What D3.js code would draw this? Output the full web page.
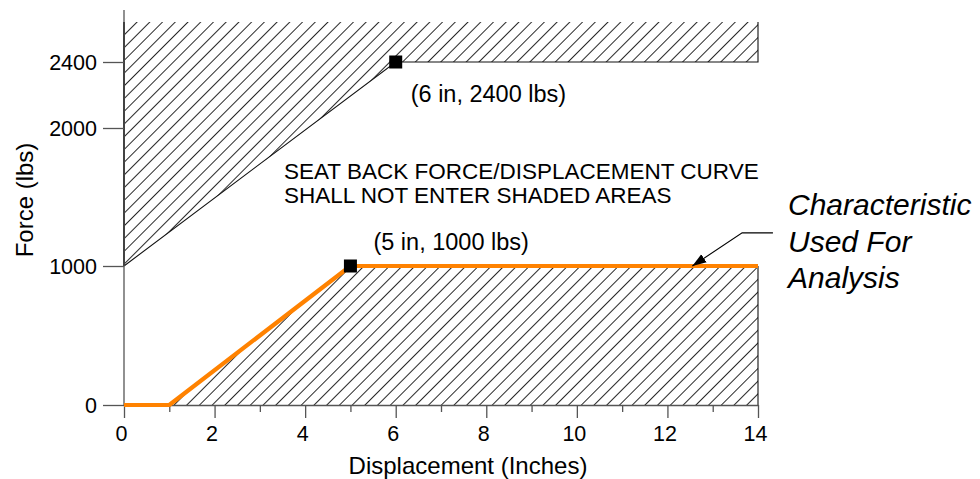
<!DOCTYPE html>
<html>
<head>
<meta charset="utf-8">
<script src="https://cdn.jsdelivr.net/npm/d3@7"></script>
<style>
  html, body { margin: 0; padding: 0; background: #fff; }
  svg { display: block; font-family: "Liberation Sans", Arial, sans-serif; }
</style>
</head>
<body>
<svg id="chart" width="980" height="479"></svg>
<script>
// ---------- data ----------
const xMajorTicks = [0, 2, 4, 6, 8, 10, 12, 14];
const xMinorTicks = [1, 3, 5, 7, 9, 11, 13];
const yTicks = [0, 1000, 2000, 2400];

// characteristic used for analysis (orange)
const charX = [0, 1, 5, 14];
const charY = [0, 0, 1000, 1000];

// lower shaded (forbidden) area
const lowerX = [1, 5, 14, 14];
const lowerY = [0, 1000, 1000, 0];

// upper shaded (forbidden) area
const upperX = [0, 6, 14, 14, 0];
const upperY = [1000, 2400, 2400, 2650, 2650];

// marked corner points
const markerX = [5, 6];
const markerY = [1000, 2400];
const markerLabels = ["(5 in, 1000 lbs)", "(6 in, 2400 lbs)"];

const noteLines = ["SEAT BACK FORCE/DISPLACEMENT CURVE", "SHALL NOT ENTER SHADED AREAS"];
const calloutLines = ["Characteristic", "Used For", "Analysis"];
// leader from the curve to the callout
const leaderX = [12.55, 13.65, 14.33];
const leaderY = [1000, 1240, 1240];

// ---------- scales ----------
const svg = d3.select("#chart");
const x = d3.scaleLinear().domain([0, 14]).range([124, 758]);
// drawing's vertical axis is not uniform above 2000 lbs
const y = d3.scaleLinear().domain([0, 1000, 2000, 2400, 2650, 2725]).range([405, 266, 128, 62, 22, 10]);

const defs = svg.append("defs");
const pat = defs.append("pattern")
  .attr("id", "hatch")
  .attr("patternUnits", "userSpaceOnUse")
  .attr("width", 9).attr("height", 9)
  .attr("patternTransform", "rotate(45)");
pat.append("line").attr("x1", 4.5).attr("y1", 0).attr("x2", 4.5).attr("y2", 9)
  .attr("stroke", "#111").attr("stroke-width", 0.9);

defs.append("marker")
  .attr("id", "arrow")
  .attr("viewBox", "0 0 10 10")
  .attr("refX", 0).attr("refY", 5)
  .attr("markerWidth", 14).attr("markerHeight", 14)
  .attr("markerUnits", "userSpaceOnUse")
  .attr("orient", "auto")
  .append("path").attr("d", "M10,1.5 L0,5 L10,8.5 Z").attr("fill", "#000");

const pts = (xs, ys) => xs.map((v, i) => [x(v), y(ys[i])]);
const line = d3.line();

// shaded areas
svg.append("path").attr("d", line(pts(upperX, upperY)) + "Z").attr("fill", "url(#hatch)");
svg.append("path").attr("d", line(pts(lowerX, lowerY)) + "Z").attr("fill", "url(#hatch)");

// upper area border
svg.append("path")
  .attr("d", line(pts(upperX.slice(0, 4), upperY.slice(0, 4))))
  .attr("fill", "none").attr("stroke", "#111").attr("stroke-width", 1.1);
svg.append("path")
  .attr("d", line(pts([0, 0], [1000, 2650])))
  .attr("fill", "none").attr("stroke", "#222").attr("stroke-width", 2);
// lower area right border
svg.append("path")
  .attr("d", line(pts([14, 14], [0, 1000])))
  .attr("fill", "none").attr("stroke", "#111").attr("stroke-width", 1.1);

// ---------- axes ----------
const axisColor = "#555";
const gy = svg.append("g").attr("transform", `translate(${x(0)},0)`)
  .call(d3.axisLeft(y).tickValues(yTicks).tickSize(21).tickSizeOuter(0).tickFormat(d3.format("d")));
gy.select(".domain").attr("d", `M0,${y(2725)}V${y(0)}`);
gy.selectAll("path,line").attr("stroke", axisColor).attr("stroke-width", 1.3);
gy.selectAll("text").attr("font-size", 21.5).attr("fill", "#000").attr("x", -27).attr("dy", "0.36em")
  .attr("font-family", "Liberation Sans, Arial, sans-serif");

const gx = svg.append("g").attr("transform", `translate(0,${y(0)})`)
  .call(d3.axisBottom(x).tickValues(xMajorTicks).tickSize(13).tickSizeOuter(0).tickFormat(d3.format("d")));
gx.selectAll("path,line").attr("stroke", axisColor).attr("stroke-width", 1.3);
gx.selectAll("text").attr("font-size", 21.5).attr("fill", "#000").attr("x", -3).attr("y", 21).attr("dy", "0.71em")
  .attr("font-family", "Liberation Sans, Arial, sans-serif");
const gxm = svg.append("g").attr("transform", `translate(0,${y(0)})`)
  .call(d3.axisBottom(x).tickValues(xMinorTicks).tickSize(7).tickSizeOuter(0).tickFormat(""));
gxm.select(".domain").remove();
gxm.selectAll("line").attr("stroke", axisColor).attr("stroke-width", 1.3);

// axis titles
svg.append("text").attr("x", x(7) + 27).attr("y", 474)
  .attr("text-anchor", "middle").attr("font-size", 24).text("Displacement (Inches)");
svg.append("text").attr("transform", `translate(33,${y(1000) - 66}) rotate(-90)`)
  .attr("text-anchor", "middle").attr("font-size", 24).text("Force (lbs)");

// ---------- characteristic curve ----------
svg.append("path").attr("d", line(pts(charX, charY)))
  .attr("fill", "none").attr("stroke", "#ff8200").attr("stroke-width", 4.2)
  .attr("stroke-linejoin", "round");

// markers
svg.selectAll("rect.marker").data(markerX).enter().append("rect")
  .attr("class", "marker")
  .attr("x", (d) => x(d) - 6.5).attr("y", (d, i) => y(markerY[i]) - 6.5)
  .attr("width", 13).attr("height", 13).attr("fill", "#000");

// marker labels
svg.append("text").attr("x", x(5) + 23).attr("y", y(1000) - 16)
  .attr("font-size", 23.5).text(markerLabels[0]);
svg.append("text").attr("x", x(6) + 15).attr("y", y(2400) + 40)
  .attr("font-size", 23.5).text(markerLabels[1]);

// note
const note = svg.append("text").attr("font-size", 22.5);
noteLines.forEach((t, i) => {
  note.append("tspan").attr("x", 284).attr("y", 179 + i * 24).text(t);
});

// leader + callout
svg.append("path").attr("d", line(pts(leaderX, leaderY)))
  .attr("fill", "none").attr("stroke", "#000").attr("stroke-width", 1.1)
  .attr("marker-start", "url(#arrow)");
const callout = svg.append("text").attr("font-size", 30).attr("font-style", "italic");
calloutLines.forEach((t, i) => {
  callout.append("tspan").attr("x", 788).attr("y", 215 + i * 36.5).text(t);
});
</script>
</body>
</html>
